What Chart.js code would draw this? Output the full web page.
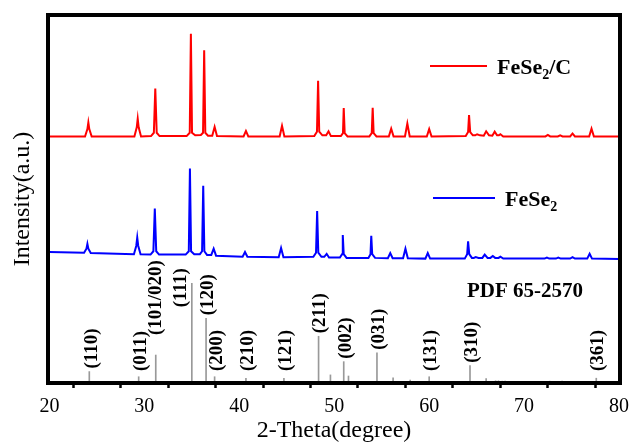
<!DOCTYPE html>
<html>
<head>
<meta charset="utf-8">
<script src="https://cdn.jsdelivr.net/npm/chart.js@4.4.1/dist/chart.umd.min.js"></script>
<style>
html,body{margin:0;padding:0;background:#fff;}
#wrap{width:630px;height:446px;}
</style>
</head>
<body>
<div id="wrap"><canvas id="c" width="630" height="446"></canvas></div>
<script>
// ---- data ----
const tickValues = [20,25,30,35,40,45,50,55,60,65,70,75,80];
const tickLabels = [20,30,40,50,60,70,80];

const seriesNames = ['FeSe\u2082/C', 'FeSe\u2082'];

const redTheta = [20.0,23.75,24.0,24.1,24.2,24.45,28.95,29.2,29.3,29.4,29.65,30.7,31.0,31.15,31.3,31.6,34.45,34.78,34.9,35.02,35.35,35.95,36.18,36.3,36.42,36.7,37.15,37.4,37.65,40.45,40.7,40.95,44.25,44.5,44.75,47.9,48.18,48.3,48.42,48.75,49.15,49.4,49.65,50.7,50.92,51.0,51.1,51.4,53.7,53.95,54.05,54.15,54.45,55.75,56.0,56.25,57.45,57.7,57.95,59.75,60.0,60.25,63.85,64.1,64.2,64.32,64.6,64.85,65.05,65.35,65.75,66.0,66.3,66.65,66.9,67.15,67.35,67.5,67.8,72.25,72.5,72.75,73.55,73.8,74.05,74.85,75.1,75.35,76.85,77.1,77.35,80.0];
const redIntensity = [67.0,67.0,69.0,70.8,69.0,67.0,67.0,69.5,71.8,69.5,67.0,67.1,68.0,80.0,68.0,67.1,67.1,68.0,94.9,68.0,67.3,67.4,68.0,90.4,68.0,67.2,67.2,69.6,67.1,67.0,68.5,67.0,67.0,69.9,67.0,67.1,68.3,82.1,68.3,67.3,67.3,68.4,67.1,67.1,67.9,74.7,67.9,67.0,67.0,67.9,74.8,67.9,67.0,67.0,69.1,67.0,67.0,70.5,67.0,67.0,69.0,67.0,67.1,68.2,72.8,68.2,67.3,67.3,67.6,67.3,67.2,68.4,67.3,67.2,68.3,67.3,67.3,67.6,67.0,67.0,67.4,67.0,67.0,67.3,67.0,67.0,67.8,67.0,67.0,69.1,67.0,67.0];

const blueTheta = [20.0,23.65,23.9,24.0,24.1,24.35,28.9,29.15,29.25,29.35,29.6,30.65,30.95,31.1,31.25,31.55,34.35,34.68,34.8,34.92,35.25,35.85,36.08,36.2,36.32,36.6,37.05,37.3,37.55,40.35,40.6,40.85,44.15,44.4,44.65,47.8,48.08,48.2,48.32,48.65,48.95,49.2,49.45,50.6,50.82,50.9,51.0,51.3,53.6,53.82,53.9,54.0,54.3,55.65,55.9,56.15,57.25,57.5,57.75,59.6,59.85,60.1,63.75,64.0,64.1,64.22,64.5,64.7,64.9,65.2,65.6,65.85,66.15,66.45,66.7,66.95,67.3,67.5,67.8,72.15,72.4,72.65,73.35,73.6,73.85,74.85,75.1,75.35,76.65,76.9,77.15,80.0];
const blueIntensity = [35.6,35.4,36.5,37.8,36.5,35.3,35.0,37.3,39.5,37.3,35.0,34.9,35.8,47.4,35.8,34.9,34.9,35.8,58.3,35.8,35.0,35.0,35.8,53.6,35.8,34.8,34.8,36.5,34.6,34.3,35.6,34.3,34.2,36.7,34.2,34.3,35.4,46.7,35.4,34.3,34.3,35.1,34.1,34.1,35.0,40.2,35.0,34.0,34.0,35.0,40.0,35.0,34.0,33.9,35.3,33.9,33.9,36.5,33.9,33.8,35.3,33.8,33.8,35.0,38.5,35.0,34.0,34.0,34.2,34.0,34.0,34.9,34.0,34.0,34.5,34.0,34.0,34.3,33.8,33.8,34.1,33.8,33.8,34.1,33.8,33.8,34.2,33.8,33.8,35.1,33.8,33.7];

const refTheta = [24.2,29.4,31.2,35.0,36.5,37.4,40.7,44.7,48.35,49.6,51.0,51.5,54.5,56.2,58.0,60.0,64.3,66.0,67.0,67.3,67.7,68.0,72.7,74.0,77.6];
const refIntensity = [3.1,1.7,7.6,27.1,17.6,1.7,1.3,1.3,12.7,2.2,5.8,1.9,8.2,1.4,0.8,1.7,4.7,1.2,0.6,0.6,0.5,0.5,0.5,0.5,1.3];

const hklTheta = [24.2,29.4,31.2,35.0,36.5,37.4,40.7,44.7,48.35,51.0,54.5,60.0,64.3,77.6];
const hklText = ['(110)','(011)','(101/020)','(111)','(120)','(200)','(210)','(121)','(211)','(002)','(031)','(131)','(310)','(361)'];

const cardText = 'PDF 65-2570';

// ---- styling / placement (not data) ----
const SERIF = '"Liberation Serif", "Times New Roman", serif';
const labelNudge = { '(111)': {dx: -12, dy: 27}, '(101/020)': {dx: -1, dy: -17}, '(110)': {dx: 2, dy: 0} };
const FRAME = 4;

function pts(xs, ys){ return xs.map((x, i) => ({x: x, y: ys[i]})); }

const overlayPlugin = {
  id: 'overlay',
  afterDraw(chart){
    const ctx = chart.ctx;
    const a = chart.chartArea;
    const xs = chart.scales.x, ys = chart.scales.y;
    ctx.save();
    // frame (filled bars)
    const h = FRAME / 2;
    ctx.fillStyle = '#000000';
    ctx.fillRect(a.left - h, a.top - h, a.right - a.left + FRAME, FRAME);
    ctx.fillRect(a.left - h, a.bottom - h, a.right - a.left + FRAME, FRAME);
    ctx.fillRect(a.left - h, a.top - h, FRAME, a.bottom - a.top + FRAME);
    ctx.fillRect(a.right - h, a.top - h, FRAME, a.bottom - a.top + FRAME);

    // hkl labels
    ctx.fillStyle = '#000';
    ctx.font = 'bold 19px ' + SERIF;
    ctx.textAlign = 'left';
    ctx.textBaseline = 'middle';
    hklText.forEach((t, i) => {
      const th = hklTheta[i];
      const k = refTheta.indexOf(th);
      const hh = k >= 0 ? refIntensity[k] : 0;
      const nd = labelNudge[t] || {dx: 1, dy: 0};
      const px = xs.getPixelForValue(th) + nd.dx;
      const py = Math.min(ys.getPixelForValue(hh) - 3, a.bottom - 12) + nd.dy;
      ctx.save();
      ctx.translate(px, py);
      ctx.rotate(-Math.PI / 2);
      ctx.fillText(t, 0, 1);
      ctx.restore();
    });

    // card label
    ctx.font = 'bold 21px ' + SERIF;
    ctx.textBaseline = 'alphabetic';
    ctx.fillText(cardText, 467, 297);

    // legend
    const items = [
      {color: chart.data.datasets[0].borderColor, x1: 430, x2: 487, y: 66, tx: 497, base: 74, main: 'FeSe', sub: '2', tail: '/C'},
      {color: chart.data.datasets[1].borderColor, x1: 433, x2: 495, y: 198, tx: 505, base: 206, main: 'FeSe', sub: '2', tail: ''}
    ];
    items.forEach(it => {
      ctx.fillStyle = it.color;
      ctx.fillRect(it.x1, it.y - 1, it.x2 - it.x1, 2);
      ctx.fillStyle = '#000';
      ctx.font = 'bold 22px ' + SERIF;
      ctx.fillText(it.main, it.tx, it.base);
      let x = it.tx + ctx.measureText(it.main).width;
      ctx.font = 'bold 14px ' + SERIF;
      ctx.fillText(it.sub, x, it.base + 5);
      x += ctx.measureText(it.sub).width;
      ctx.font = 'bold 22px ' + SERIF;
      if (it.tail) ctx.fillText(it.tail, x, it.base);
    });
    ctx.restore();
  }
};

new Chart(document.getElementById('c'), {
  type: 'line',
  data: {
    datasets: [
      {label: seriesNames[0], data: pts(redTheta, redIntensity), borderColor: '#ff0000', borderWidth: 2, pointRadius: 0, tension: 0, fill: false},
      {label: seriesNames[1], data: pts(blueTheta, blueIntensity), borderColor: '#0000ff', borderWidth: 2, pointRadius: 0, tension: 0, fill: false},
      {type: 'bar', label: cardText, data: pts(refTheta, refIntensity), backgroundColor: '#999999', barThickness: 1, borderWidth: 0}
    ]
  },
  options: {
    responsive: false,
    devicePixelRatio: 1,
    animation: false,
    layout: {padding: {top: 15, right: 10, left: 0, bottom: 0}},
    plugins: {legend: {display: false}, tooltip: {enabled: false}},
    scales: {
      x: {
        type: 'linear', min: 19.85, max: 80.1, offset: false,
        afterBuildTicks: (s) => { s.ticks = tickValues.map(v => ({value: v})); },
        afterFit: (s) => { s.height = 63; s.paddingRight = 0; s.paddingLeft = 0; },
        ticks: {
          autoSkip: false, maxRotation: 0, padding: 7, color: '#000',
          font: {family: SERIF, size: 20},
          callback: (v) => tickLabels.includes(v) ? String(v) : ''
        },
        grid: {display: true, drawOnChartArea: false, drawTicks: true, tickLength: 5, tickWidth: 2.5, tickColor: '#000'},
        border: {display: false},
        title: {display: true, text: '2-Theta(degree)', color: '#000', font: {family: SERIF, size: 24}, padding: {top: 0, bottom: 1}}
      },
      y: {
        type: 'linear', min: 0, max: 100,
        afterFit: (s) => { s.width = 48; },
        ticks: {display: false},
        grid: {display: false},
        border: {display: false},
        title: {display: true, text: 'Intensity(a.u.)', color: '#000', font: {family: SERIF, size: 24}, padding: {top: 8, bottom: 0}}
      }
    }
  },
  plugins: [overlayPlugin]
});
</script>
</body>
</html>
